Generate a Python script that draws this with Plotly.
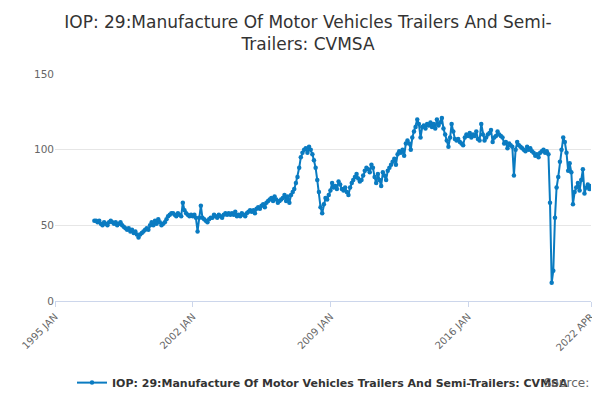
import pandas as pd
import plotly.graph_objects as go

start = "1997-01-01"
values = [
    53, 53, 52, 53, 51, 50, 52, 51, 50, 52, 53, 52,
    51, 52, 50, 51, 52, 50, 49, 48, 47, 48, 46, 47,
    45, 46, 44, 42, 44, 45, 46, 47, 48, 47, 50, 52,
    50, 53, 51, 54, 52, 50, 51, 52, 54, 56, 57, 58,
    58, 57, 56, 58, 57, 56, 65, 60, 58, 57, 56, 57,
    56, 57, 55, 46, 55, 63, 55, 54, 53, 52, 54, 55,
    55, 57, 56, 55, 57, 56, 55, 57, 58, 57, 58, 57,
    58, 57, 59, 56, 57, 56, 58, 57, 56, 58, 59, 60,
    59, 60, 58, 61, 62, 61, 63, 64, 62, 65, 66, 67,
    68, 66, 69, 67, 65, 66, 67, 68, 70, 66, 69, 65,
    70, 72, 74, 78, 82, 88, 95, 98, 100, 101, 98, 102,
    100, 97, 93, 88, 80, 72, 62, 58, 64, 68, 67, 70,
    73, 78, 75, 76, 74, 79, 77, 74, 73, 75, 72, 70,
    75, 78, 80, 82, 84, 81, 79, 80, 83, 86, 88, 87,
    85, 90, 88, 82, 78, 84, 80, 76, 85, 83, 80, 86,
    88, 90, 92, 94, 90, 97, 99, 98, 100, 96, 104, 106,
    104, 100, 108, 112, 115, 120, 117, 108, 115, 116, 114, 117,
    116, 118, 115, 117, 114, 120, 116, 118, 121, 114, 110, 106,
    102, 108, 117, 112, 107, 106, 107, 105, 104, 103, 108, 110,
    109, 111, 108, 110, 109, 112, 107, 106, 117, 110, 106, 108,
    110, 111, 113, 105, 108, 109, 112, 110, 109, 108, 104, 105,
    101, 104, 103, 102, 83, 100, 105, 103, 102, 101, 100, 99,
    102, 100, 101, 99, 98, 96, 97, 95, 98, 99, 100, 98,
    99, 97, 65, 12, 20, 55, 75, 82, 92, 100, 108, 105,
    98, 86, 91, 85, 64, 72, 75, 78, 73, 80, 87, 71,
    75, 77, 74, 76,
]
dates = pd.date_range(start, periods=len(values), freq="MS")
tick_vals = ["1995-01-01", "2002-01-01", "2009-01-01", "2016-01-01", "2022-04-01"]
tick_text = ["1995 JAN", "2002 JAN", "2009 JAN", "2016 JAN", "2022 APR"]
name = "IOP: 29:Manufacture Of Motor Vehicles Trailers And Semi-Trailers: CVMSA"

fig = go.Figure(go.Scatter(
    x=dates, y=values, mode="lines+markers", name=name,
    line=dict(color="#0a7bc1", width=2), marker=dict(size=4.5, color="#0a7bc1"),
))
fig.update_layout(
    width=600, height=400, plot_bgcolor="white", paper_bgcolor="white",
    font=dict(family="DejaVu Sans", color="#555"),
    title=dict(text="IOP: 29:Manufacture Of Motor Vehicles Trailers And Semi-<br>Trailers: CVMSA",
               x=0.5, y=0.95, font=dict(size=17, color="#333")),
    margin=dict(l=47, r=17, t=66, b=106),
    showlegend=True,
    legend=dict(orientation="h", x=0.5, xanchor="center", y=-0.29,
                font=dict(size=11, color="#333", weight="bold")),
    xaxis=dict(range=["1995-01-01", "2022-04-01"], tickvals=tick_vals, ticktext=tick_text,
               tickangle=-45, tickfont=dict(size=10, color="#666"), showgrid=False,
               showline=True, linecolor="#ccd6eb", ticks="outside", tickcolor="#ccd6eb"),
    yaxis=dict(range=[0, 150], tickvals=[0, 50, 100, 150], gridcolor="#e6e6e6",
               tickfont=dict(size=10.5, color="#666"), zeroline=False),
)
fig.add_annotation(text="Source:", xref="paper", yref="paper", x=1.0, y=-0.4,
                   showarrow=False, xanchor="right", font=dict(size=12, color="#666"))
fig.write_html("out.html")
